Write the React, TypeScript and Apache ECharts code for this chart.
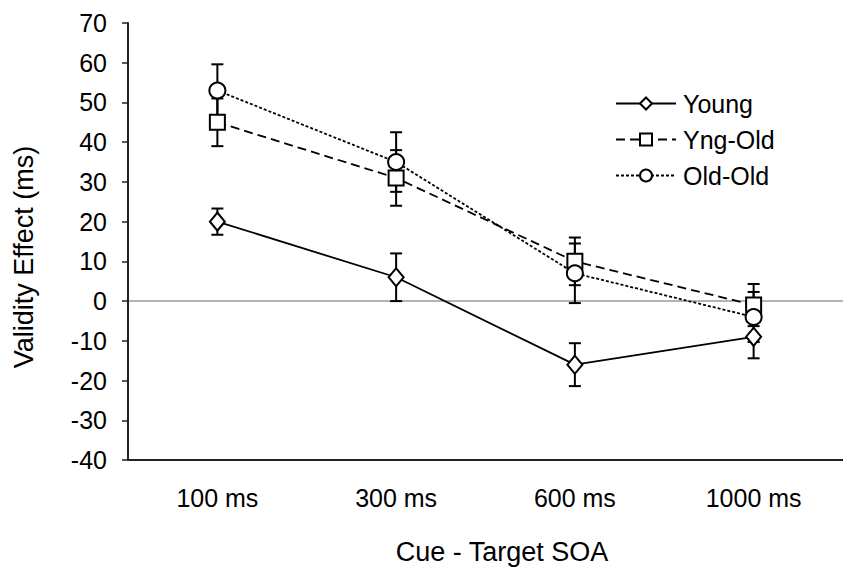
import React, { useEffect, useRef } from "react";
import * as echarts from "echarts";

const categories = ["100 ms", "300 ms", "600 ms", "1000 ms"];
const young = [20, 6, -16, -9];
const youngErr = [3.3, 6, 5.4, 5.4];
const yngOld = [45, 31, 10, -1];
const yngOldErr = [6, 7, 6, 5.3];
const oldOld = [53, 35, 7, -4];
const oldOldErr = [6.6, 7.5, 7.5, 6.3];
const yTicks = { min: -40, max: 70, interval: 10 };
const xTitle = "Cue - Target SOA";
const yTitle = "Validity Effect (ms)";

const FONT = "Liberation Sans, Arial, sans-serif";

function errData(vals: number[], errs: number[]) {
  return vals.map((v, i) => [i, v - errs[i], v + errs[i]]);
}

function errSeries(name: string, vals: number[], errs: number[]) {
  return {
    type: "custom",
    name,
    z: 1,
    silent: true,
    data: errData(vals, errs),
    renderItem: (params: any, api: any) => {
      const x = api.value(0);
      const lo = api.coord([x, api.value(1)]);
      const hi = api.coord([x, api.value(2)]);
      const hw = 6;
      const style = { stroke: "#000", lineWidth: 2 };
      return {
        type: "group",
        children: [
          { type: "line", shape: { x1: lo[0], y1: lo[1], x2: hi[0], y2: hi[1] }, style },
          { type: "line", shape: { x1: lo[0] - hw, y1: lo[1], x2: lo[0] + hw, y2: lo[1] }, style },
          { type: "line", shape: { x1: hi[0] - hw, y1: hi[1], x2: hi[0] + hw, y2: hi[1] }, style },
        ],
      };
    },
  };
}

function lineSeries(name: string, vals: number[], symbol: string, size: any, type: any) {
  return {
    type: "line",
    name,
    data: vals,
    z: 3,
    symbol,
    symbolSize: size,
    showAllSymbol: true,
    lineStyle: { color: "#000", width: 1.8, type },
    itemStyle: { color: "#fff", borderColor: "#000", borderWidth: 2 },
  };
}

export default function App() {
  const ref = useRef<HTMLDivElement>(null);
  useEffect(() => {
    document.body.style.margin = "0";
    const chart = echarts.init(ref.current!, null, { renderer: "svg" });
    const yl = lineSeries("Young", young, "diamond", [15, 18], "solid") as any;
    yl.markLine = {
      silent: true,
      symbol: ["none", "none"],
      label: { show: false },
      lineStyle: { color: "#b3b3b3", width: 2, type: "solid" },
      z: 0,
      data: [{ yAxis: 0 }],
    };
    chart.setOption({
      animation: false,
      backgroundColor: "#fff",
      textStyle: { fontFamily: FONT },
      grid: { left: 128, top: 23, bottom: 114, right: -13 },
      legend: {
        orient: "vertical",
        left: 610,
        top: 86,
        itemWidth: 60,
        itemHeight: 15,
        itemGap: 11,
        data: ["Young", "Yng-Old", "Old-Old"],
        textStyle: { fontSize: 25, lineHeight: 25, color: "#000", fontFamily: FONT, padding: [0, 0, 0, 2] },
      },
      graphic: [
        {
          type: "text",
          x: 502,
          y: 552,
          style: {
            text: xTitle,
            fontSize: 27,
            fontFamily: FONT,
            fill: "#000",
            textAlign: "center",
            textVerticalAlign: "middle",
          },
        },
        {
          type: "text",
          x: 24,
          y: 257,
          rotation: Math.PI / 2,
          style: {
            text: yTitle,
            fontSize: 27,
            fontFamily: FONT,
            fill: "#000",
            textAlign: "center",
            textVerticalAlign: "middle",
          },
        },
      ],
      xAxis: {
        type: "category",
        data: categories,
        boundaryGap: true,
        axisLine: { onZero: false, lineStyle: { color: "#222", width: 2 } },
        axisTick: { show: false },
        axisLabel: { fontSize: 25, color: "#000", margin: 25, fontFamily: FONT },
      },
      yAxis: {
        type: "value",
        min: yTicks.min,
        max: yTicks.max,
        interval: yTicks.interval,
        splitLine: { show: false },
        axisLine: { show: true, lineStyle: { color: "#222", width: 2 } },
        axisTick: { show: true, length: 6, lineStyle: { color: "#222", width: 1.5 } },
        axisLabel: { fontSize: 25, color: "#000", margin: 21, fontFamily: FONT },
      },
      series: [
        errSeries("Young-err", young, youngErr),
        errSeries("Yng-Old-err", yngOld, yngOldErr),
        errSeries("Old-Old-err", oldOld, oldOldErr),
        yl,
        lineSeries("Yng-Old", yngOld, "rect", 15, [9, 5]),
        lineSeries("Old-Old", oldOld, "circle", 16, [3, 2]),
      ],
    });
    return () => chart.dispose();
  }, []);
  return <div ref={ref} style={{ width: 843, height: 574 }} />;
}
